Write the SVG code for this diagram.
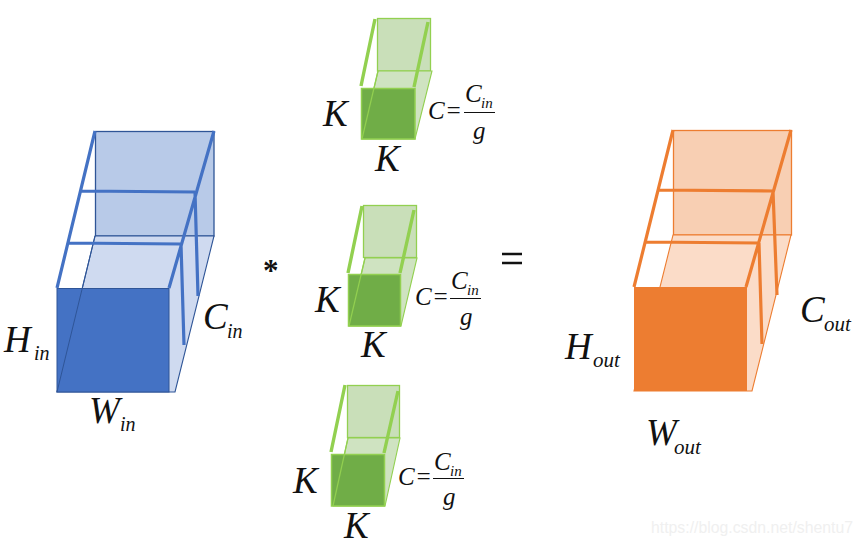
<svg xmlns="http://www.w3.org/2000/svg" width="862" height="546" viewBox="0 0 862 546">
<style>
text{font-family:"Liberation Serif","Times New Roman",serif;font-style:italic;fill:#111}
.b{font-size:37px}.s{font-size:20px}.so{font-size:21px}
.k{font-size:37px}.c{font-size:25px}.ci{font-size:25px}.sub{font-size:15px}.g{font-size:25px}
.eq{font-style:normal}
.blue-back{fill:#b8cae8;stroke:#2f5597;stroke-width:1.3}
.blue-plane{fill:#cfdaf0;stroke:#2f5597;stroke-width:1.1}
.blue-front{fill:#4472c4;stroke:#2f5597;stroke-width:1}
.blue-diag{fill:none;stroke:#2f5597;stroke-width:1}
.blue-t{fill:none;stroke:#4472c4;stroke-width:3.2}
.or-back{fill:#f8cfb3;stroke:#ed7d31;stroke-width:1.3}
.or-plane{fill:#fbdcc8;stroke:#ed7d31;stroke-width:1.1}
.or-front{fill:#ed7d31}
.or-t{fill:none;stroke:#ed7d31;stroke-width:3.2}
.gr-back{fill:#c9dfb9;stroke:#92d050;stroke-width:1.3}
.gr-plane{fill:#cfe3c1;stroke:#92d050;stroke-width:1.1}
.gr-front{fill:#70ad47;stroke:#92d050;stroke-width:1.5}
.gr-diag{fill:none;stroke:#92d050;stroke-width:1.2}
.gr-t{fill:none;stroke:#92d050;stroke-width:3.4}
.rule{stroke:#111;stroke-width:1}
.wm{font-family:"Liberation Sans",Arial,sans-serif;font-style:normal;font-size:15.8px;fill:#f0f0f0}
</style>
<g id="tensor-in">
<rect class="blue-back" x="95.500" y="131.500" width="118.500" height="104.500"/>
<polygon class="blue-plane" points="95,236 214,236 175,392 57,392"/>
<rect class="blue-front" x="57" y="288.500" width="112" height="103.500"/>
<path class="blue-diag" d="M95,236L57,392"/>
<path class="blue-t" d="M57,288L95,131M214,131L169,288M81,191L195,192M68,243L181,244M195,192L198,296M181,244L184,345"/>
<text class="b" x="4" y="352">H</text><text class="s" x="34" y="360">in</text>
<text class="b" x="89" y="423">W</text><text class="s" x="120" y="431">in</text>
<text class="b" x="203" y="329">C</text><text class="s" x="227" y="338">in</text>
</g>
<g id="kernel-top">
<rect class="gr-back" x="377.500" y="18.500" width="53" height="52.500"/>
<polygon class="gr-plane" points="378,71 432,71 415,139 362,139"/>
<rect class="gr-front" x="361.500" y="88.500" width="53.500" height="50.500"/>
<path class="gr-diag" d="M378,71L362,139"/>
<path class="gr-t" d="M361,86L375,19M414,87L428,22"/>
<text class="k" x="323" y="126">K</text><text class="k" x="375" y="171">K</text>
<text class="c" x="428" y="119">C</text><text class="c" x="445" y="119" font-style="normal">=</text>
<text class="ci" x="465" y="102">C</text><text class="sub" x="481" y="108">in</text>
<path class="rule" d="M464,112.500H495"/>
<text class="g" x="473" y="139">g</text>
</g>
<g id="kernel-mid">
<rect class="gr-back" x="363.500" y="205.500" width="53" height="52"/>
<polygon class="gr-plane" points="365,258 417,258 401,326 349,326"/>
<rect class="gr-front" x="348.500" y="274.500" width="52" height="51.500"/>
<path class="gr-diag" d="M365,258L349,326"/>
<path class="gr-t" d="M348,273L362,206M400,273L414,210"/>
<text class="k" x="315" y="312">K</text><text class="k" x="361" y="357">K</text>
<text class="c" x="415" y="305">C</text><text class="c" x="432" y="305" font-style="normal">=</text>
<text class="ci" x="451" y="289">C</text><text class="sub" x="467" y="295">in</text>
<path class="rule" d="M450,298.500H481"/>
<text class="g" x="460" y="325">g</text>
</g>
<g id="kernel-bottom">
<rect class="gr-back" x="347.500" y="385.500" width="52" height="52"/>
<polygon class="gr-plane" points="348,438 400,438 385,506 333,506"/>
<rect class="gr-front" x="331.500" y="454.500" width="53" height="51.500"/>
<path class="gr-diag" d="M348,438L333,506"/>
<path class="gr-t" d="M331,452L345,385M384,453L398,391"/>
<text class="k" x="293" y="493">K</text><text class="k" x="344" y="538">K</text>
<text class="c" x="398" y="485">C</text><text class="c" x="415" y="485" font-style="normal">=</text>
<text class="ci" x="434" y="470">C</text><text class="sub" x="450" y="476">in</text>
<path class="rule" d="M433,478.500H464"/>
<text class="g" x="443" y="505">g</text>
</g>
<g id="tensor-out">
<rect class="or-back" x="673.500" y="130.500" width="118" height="104.500"/>
<polygon class="or-plane" points="673,235 791,235 752,391 634,391"/>
<rect class="or-front" x="634" y="287" width="113" height="104"/>
<path class="or-t" d="M634,287L673,130M791,130L746,287M658,190L773,191M646,242L759,243M773,191L777,295M759,243L762,344"/>
<text class="b" x="565" y="359">H</text><text class="so" x="593" y="367">out</text>
<text class="b" x="646" y="445">W</text><text class="so" x="674" y="454">out</text>
<text class="b" x="800" y="322">C</text><text class="so" x="824" y="331">out</text>
</g>
<g id="operators">
<text class="eq" x="263" y="281" font-size="31" font-weight="bold">*</text>
<path d="M502,254H522M502,263H522" stroke="#111" stroke-width="2.600" fill="none"/>
</g>
<g id="connectors"></g>
<text class="wm" x="651" y="533">https://blog.csdn.net/shentu7</text>
</svg>
